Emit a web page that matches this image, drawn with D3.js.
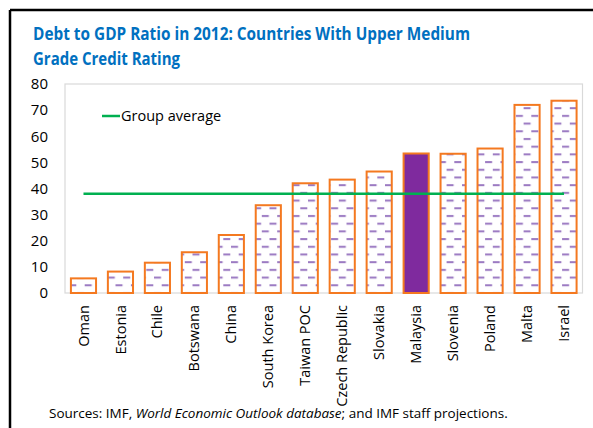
<!DOCTYPE html>
<html><head><meta charset="utf-8">
<script src="https://cdn.jsdelivr.net/npm/d3@7"></script>
<style>
html,body{margin:0;padding:0;background:#fff;}
svg{display:block;font-family:"Open Sans","Noto Sans",sans-serif;}
</style></head>
<body>
<svg id="c" width="593" height="428"></svg>
<script>
const categories = ["Oman","Estonia","Chile","Botswana","China","South Korea","Taiwan POC","Czech Republic","Slovakia","Malaysia","Slovenia","Poland","Malta","Israel"];
const debtRatio = [5.6, 8.2, 11.6, 15.6, 22.2, 33.6, 42.0, 43.4, 46.5, 53.4, 53.3, 55.3, 72.0, 73.6];
const groupAverage = 38.0;
const highlighted = ["Malaysia"];
const yTicks = [0,10,20,30,40,50,60,70,80];
const titleLines = ["Debt to GDP Ratio in 2012: Countries With Upper Medium","Grade Credit Rating"];
const legendLabel = "Group average";

const svg = d3.select("#c");
const m = {left:65, right:582.5, top:84, bottom:293};

// frame
svg.append("line").attr("x1",10).attr("x2",593).attr("y1",10).attr("y2",10).attr("stroke","#000").attr("stroke-width",2.5);
svg.append("line").attr("x1",10).attr("x2",10).attr("y1",10).attr("y2",428).attr("stroke","#000").attr("stroke-width",2.5);

function fit(sel, w){
  const n = sel.node(); const l = n.getComputedTextLength();
  const fs = parseFloat(sel.attr("font-size"));
  sel.attr("font-size", fs*w/l);
}

// title (condensed to match width)
svg.append("text").attr("x",33).attr("y",40).attr("font-size",17.5).attr("font-weight","bold").attr("fill","#0070c0")
  .attr("textLength",437).attr("lengthAdjust","spacingAndGlyphs").text(titleLines[0]);
svg.append("text").attr("x",33).attr("y",65).attr("font-size",17.5).attr("font-weight","bold").attr("fill","#0070c0")
  .attr("textLength",147).attr("lengthAdjust","spacingAndGlyphs").text(titleLines[1]);

const x = d3.scaleBand().domain(categories).range([m.left, m.right]).paddingInner(0.32).paddingOuter(0.16);
const y = d3.scaleLinear().domain([0,80]).range([m.bottom, m.top]);

// pattern
const defs = svg.append("defs");
const pat = defs.append("pattern").attr("id","dash").attr("patternUnits","userSpaceOnUse")
  .attr("width",15.4).attr("height",15.4).attr("x",0).attr("y",m.bottom-3);
pat.append("rect").attr("width",15.4).attr("height",15.4).attr("fill","#fff");
pat.append("rect").attr("x",0).attr("y",2).attr("width",7).attr("height",2).attr("fill","#9b79c2");
pat.append("rect").attr("x",7.7).attr("y",9.7).attr("width",7).attr("height",2).attr("fill","#9b79c2");

// plot area border
svg.append("rect").attr("x",m.left).attr("y",m.top).attr("width",m.right-m.left).attr("height",m.bottom-m.top)
  .attr("fill","none").attr("stroke","#d9d9d9").attr("stroke-width",1.2);

// y axis
const ya = svg.append("g").attr("transform",`translate(${m.left},0)`).call(d3.axisLeft(y).tickValues(yTicks).tickSize(0).tickPadding(17));
ya.select(".domain").remove();
ya.selectAll("text").attr("font-size",15).attr("fill","#000").attr("font-family","\"Open Sans\",sans-serif");

// bars
svg.append("g").selectAll("rect").data(categories).join("rect")
  .attr("x",d=>x(d)).attr("width",x.bandwidth())
  .attr("y",(d,i)=>y(debtRatio[i])).attr("height",(d,i)=>y(0)-y(debtRatio[i]))
  .attr("fill",d=>highlighted.includes(d)?"#7f2a9e":"url(#dash)")
  .attr("stroke","#f47920").attr("stroke-width",2);

// group average line
svg.append("line").attr("x1",x(categories[0])+x.bandwidth()/2).attr("x2",x(categories[categories.length-1])+x.bandwidth()/2)
  .attr("y1",y(groupAverage)).attr("y2",y(groupAverage)).attr("stroke","#00b050").attr("stroke-width",2.5);

// legend
svg.append("line").attr("x1",102).attr("x2",120).attr("y1",116).attr("y2",116).attr("stroke","#00b050").attr("stroke-width",2.5);
svg.append("text").attr("x",121).attr("y",121).attr("font-size",14.5).attr("fill","#000").text(legendLabel);

// x axis labels
const xa = svg.append("g").attr("transform",`translate(0,${m.bottom})`).call(d3.axisBottom(x).tickSize(0));
xa.select(".domain").remove();
xa.selectAll("text").attr("font-size",14.5).attr("fill","#000").attr("font-family","\"Open Sans\",sans-serif")
  .attr("text-anchor","end").attr("transform","rotate(-90)").attr("x",-12).attr("y",0).attr("dy","0.35em");

// source
const s = svg.append("text").attr("x",49).attr("y",418).attr("font-size",14).attr("fill","#000");
s.append("tspan").text("Sources: IMF, ");
s.append("tspan").attr("font-style","italic").text("World Economic Outlook database");
s.append("tspan").text("; and IMF staff projections.");
fit(s, 459);
</script>
</body></html>
